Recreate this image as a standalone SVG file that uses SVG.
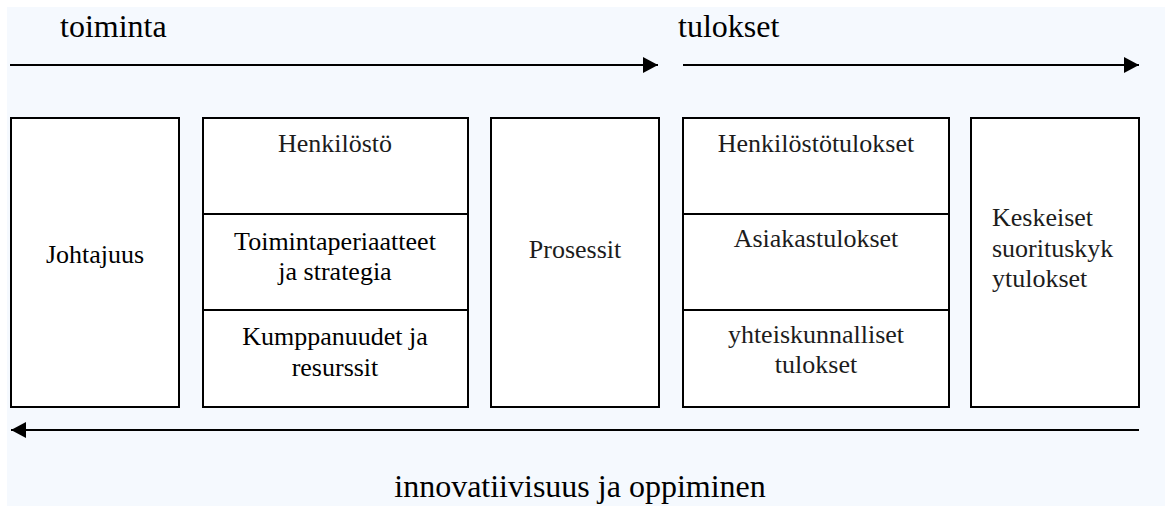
<svg xmlns="http://www.w3.org/2000/svg" width="1165" height="506" viewBox="0 0 1165 506">
  <style>
    .box { fill: #ffffff; stroke: #000000; stroke-width: 2; }
    .div { stroke: #000000; stroke-width: 2; }
    .flow { stroke: #000000; stroke-width: 2; fill: none; }
    .lbl { font-family: "Liberation Serif", "Times New Roman", serif; font-size: 26px; fill: #000000; }
    .soft { fill: #1c1c1c; }
    .big { font-family: "Liberation Serif", "Times New Roman", serif; font-size: 32px; fill: #000000; }
    .mid { text-anchor: middle; }
  </style>
  <defs>
    <marker id="head" markerUnits="userSpaceOnUse" markerWidth="16" markerHeight="16" refX="15" refY="8" orient="auto">
      <path d="M0,0 L15,8 L0,16 Z" fill="#000000"/>
    </marker>
  </defs>

  <!-- page background -->
  <rect x="7" y="7" width="1158" height="499" fill="#f5f9fe"/>

  <!-- headings -->
  <text class="big" x="60" y="37">toiminta</text>
  <text class="big" x="678" y="37">tulokset</text>
  <text class="big mid" x="580" y="497">innovatiivisuus ja oppiminen</text>

  <g id="connectors">
    <line class="flow" x1="10" y1="65" x2="658" y2="65" marker-end="url(#head)"/>
    <line class="flow" x1="683" y1="65" x2="1139" y2="65" marker-end="url(#head)"/>
    <line class="flow" x1="1139" y1="430" x2="11" y2="430" marker-end="url(#head)"/>
  </g>

  <g id="johtajuus">
    <rect class="box" x="11" y="118" width="168" height="289"/>
    <text class="lbl mid" x="95" y="263">Johtajuus</text>
  </g>

  <g id="enablers">
    <rect class="box" x="203" y="118" width="265" height="289"/>
    <line class="div" x1="203" y1="214" x2="468" y2="214"/>
    <line class="div" x1="203" y1="310" x2="468" y2="310"/>
    <text class="lbl soft mid" x="335" y="152">Henkilöstö</text>
    <text class="lbl mid" x="335" y="250">Toimintaperiaatteet</text>
    <text class="lbl mid" x="335" y="280">ja strategia</text>
    <text class="lbl mid" x="335" y="345">Kumppanuudet ja</text>
    <text class="lbl mid" x="335" y="376">resurssit</text>
  </g>

  <g id="prosessit">
    <rect class="box" x="491" y="118" width="168" height="289"/>
    <text class="lbl soft mid" x="575" y="258">Prosessit</text>
  </g>

  <g id="results">
    <rect class="box" x="683" y="118" width="266" height="289"/>
    <line class="div" x1="683" y1="214" x2="949" y2="214"/>
    <line class="div" x1="683" y1="310" x2="949" y2="310"/>
    <text class="lbl soft mid" x="816" y="152">Henkilöstötulokset</text>
    <text class="lbl soft mid" x="816" y="247">Asiakastulokset</text>
    <text class="lbl soft mid" x="816" y="343">yhteiskunnalliset</text>
    <text class="lbl soft mid" x="816" y="373">tulokset</text>
  </g>

  <g id="keskeiset">
    <rect class="box" x="971" y="118" width="168" height="289"/>
    <text class="lbl soft" x="992" y="226">Keskeiset</text>
    <text class="lbl soft" x="992" y="257">suorituskyk</text>
    <text class="lbl soft" x="992" y="287">ytulokset</text>
  </g>
</svg>
